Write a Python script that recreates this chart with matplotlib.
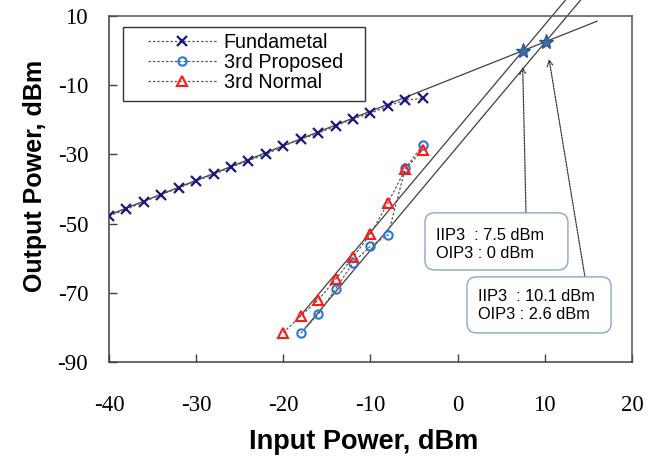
import matplotlib
matplotlib.use("Agg")
import matplotlib.pyplot as plt
from matplotlib.patches import FancyBboxPatch, Rectangle
import numpy as np

# --- data -------------------------------------------------------------------
fund_x = [-40, -38, -36, -34, -32, -30, -28, -26, -24, -22, -20, -18, -16, -14,
          -12, -10, -8, -6, -4]
fund_y = [-47.8, -45.9, -43.7, -41.6, -39.7, -37.7, -35.8, -33.7, -31.8, -30.0,
          -27.6, -25.6, -23.9, -21.8, -19.7, -18.1, -16.0, -14.3, -13.8]

prop_x = [-18, -16, -14, -12, -10, -8, -6, -4]
prop_y = [-81.7, -76.2, -68.9, -61.3, -56.5, -53.3, -34.0, -27.3]

norm_x = [-20, -18, -16, -14, -12, -10, -8, -6, -4]
norm_y = [-81.5, -76.7, -72.1, -66.1, -59.7, -53.0, -44.0, -34.3, -28.7]

# intercept points (IIP3, OIP3) and annotation text
iip3 = [7.5, 10.1]
oip3 = [0.0, 2.6]
labels = ["IIP3  : 7.5 dBm\nOIP3 : 0 dBm", "IIP3  : 10.1 dBm\nOIP3 : 2.6 dBm"]

# extent of the extrapolated fit lines
fund_fit_x = [-40, 16]
third_fit_start = [-18, -17.5]
third_fit_top = 14.6

xticks = [-40, -30, -20, -10, 0, 10, 20]
yticks = [10, -10, -30, -50, -70, -90]

# --- style ------------------------------------------------------------------
plt.rcParams["axes.unicode_minus"] = False
SANS = "Liberation Sans"
SERIF = "Liberation Serif"
LINE = "#404040"
DOT = "#5a5a5a"
ASPECT = (523 / 60) / (346 / 100)  # px per x-unit / px per y-unit

fig = plt.figure(figsize=(6.61, 4.62), dpi=100)
ax = fig.add_axes([109 / 661, 1 - 362 / 462, 523 / 661, 346 / 462])

# extrapolated lines: slope 1 for the fundamental, slope 3 for the IM3
xf = np.array(fund_fit_x, dtype=float)
ax.plot(xf, xf - (iip3[0] - oip3[0]), color=LINE, lw=0.9, zorder=2)
for xi, yo, x0 in zip(iip3, oip3, third_fit_start):
    x1 = xi + (third_fit_top - yo) / 3
    xs = np.array([x0, x1])
    ax.plot(xs, yo + 3 * (xs - xi), color=LINE, lw=0.9, zorder=2, clip_on=False)

dash = dict(color=DOT, lw=0.9, dashes=(2, 1.5))
ax.plot(fund_x, fund_y, marker="x", ms=7, mew=1.6, mec="#1a1a7a",
        label="Fundametal", zorder=4, **dash)
ax.plot(prop_x, prop_y, marker="o", ms=6, mew=1.5, mec="#2a78d6", mfc="none",
        label="3rd Proposed", zorder=4, **dash)
ax.plot(norm_x, norm_y, marker="^", ms=7, mew=1.5, mec="#ff1a1a", mfc="none",
        label="3rd Normal", zorder=4, **dash)

ax.plot(iip3, oip3, ls="none", marker="*", ms=11, color="#3d6eaa",
        mec="#2f5a90", zorder=5)

# annotation boxes (x0, x1, y_top, y_bottom) and text anchors
boxes = [(-3.75, 12.65, -46.9, -63.4), (1.07, 17.6, -65.4, -81.6)]
text_at = [(-2.5, -55.9), (2.33, -73.8)]
tails = [(7.84, -46.9), (14.6, -65.4)]
tips = [(7.46, -4.7), (10.48, -2.4)]
for txt, (x0, x1, yt, yb), (tx, ty), tail, tip in zip(labels, boxes, text_at,
                                                      tails, tips):
    ax.add_patch(FancyBboxPatch((x0, yb), x1 - x0, yt - yb,
                                boxstyle="round,pad=0,rounding_size=1.1",
                                mutation_aspect=ASPECT, fc="white",
                                ec="#8aa6cf", lw=1.0, zorder=6))
    ax.text(tx, ty, txt, family=SANS, fontsize=11.8, ha="left", va="center",
            linespacing=1.25, zorder=7)
    ax.annotate("", xy=tip, xytext=tail, zorder=3,
                arrowprops=dict(arrowstyle="->", color="#333333", lw=0.9,
                                linestyle=(0, (1.2, 1.0)), shrinkA=0, shrinkB=0,
                                mutation_scale=11))

ax.set_xlim(-40, 20)
ax.set_ylim(-90, 10)
ax.set_xticks(xticks)
ax.set_yticks(yticks)
ax.tick_params(direction="in", length=6, width=1.0, color=LINE,
               labelsize=16.5, labelfontfamily=SERIF)
ax.tick_params(axis="x", pad=24)
ax.tick_params(axis="y", pad=15)
for s in ax.spines.values():
    s.set_color("#555555")
    s.set_linewidth(1.1)
ax.spines["left"].set_color(LINE)
ax.spines["bottom"].set_color(LINE)

ax.set_xlabel("Input Power, dBm", family=SANS, fontsize=19.5, fontweight="bold")
ax.set_ylabel("Output Power, dBm", family=SANS, fontsize=18, fontweight="bold")
ax.xaxis.set_label_coords(0.4876, -0.195)
ax.yaxis.set_label_coords(-0.1185, 0.5376)

# legend: frame drawn separately to get the wide left/right padding
ax.add_patch(Rectangle((0.0268, 0.754), 0.4627, 0.214, transform=ax.transAxes,
                       fc="white", ec="#333333", lw=1.0, zorder=8))
leg = ax.legend(loc="upper left", bbox_to_anchor=(0.074, 0.95),
                prop=dict(family=SANS, size=14.2), handlelength=3.5,
                handletextpad=0.35, labelspacing=0.05, borderpad=0,
                frameon=False, borderaxespad=0)
leg.set_zorder(9)

fig.savefig("out.png", dpi=100)
